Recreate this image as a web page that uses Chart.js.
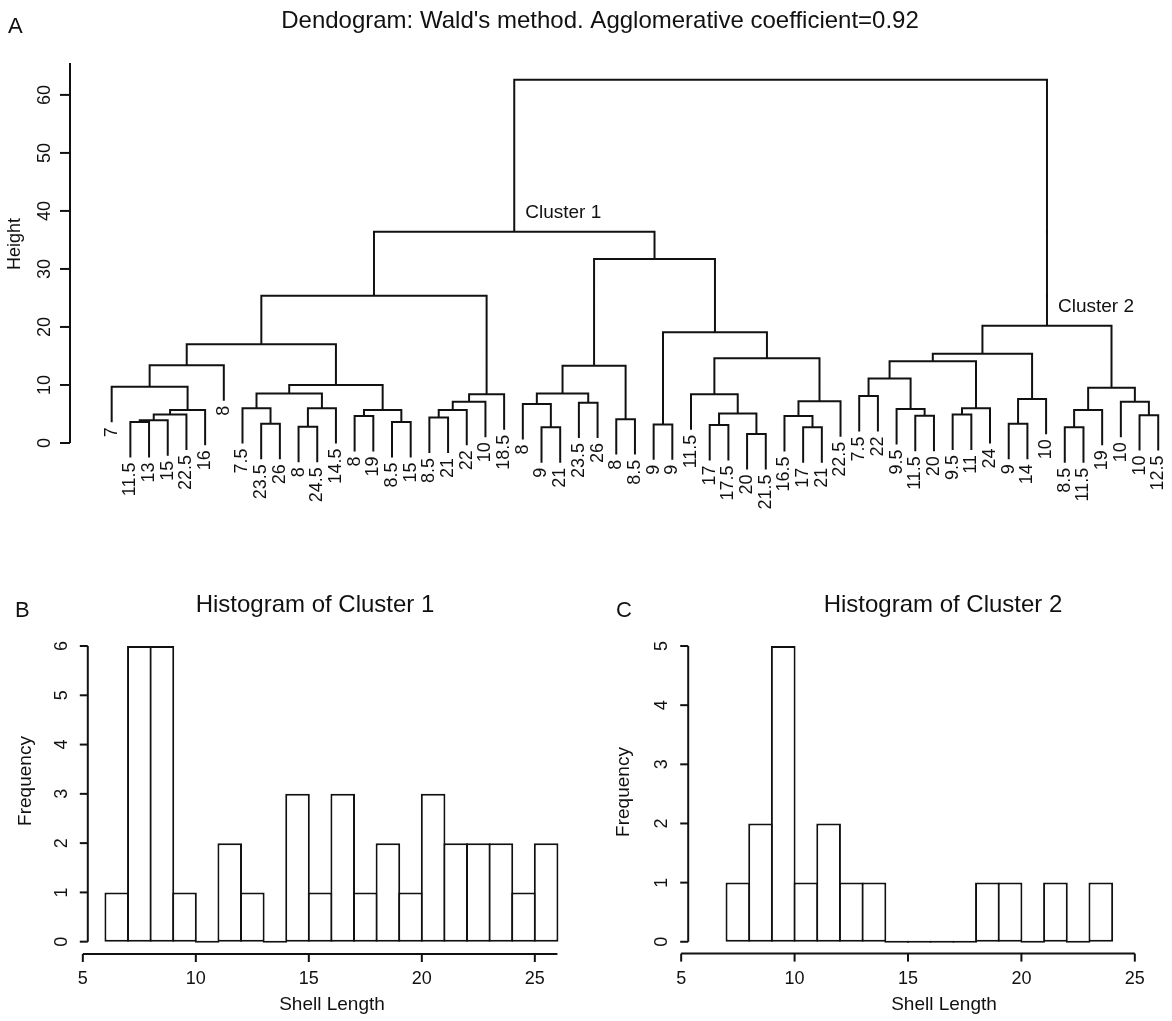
<!DOCTYPE html>
<html>
<head>
<meta charset="utf-8">
<title>Shell length clustering</title>
<script src="https://cdn.jsdelivr.net/npm/chart.js@4.4.1/dist/chart.umd.min.js"></script>
<style>
   html, body { margin: 0; padding: 0; background: #fff; }
   body { width: 1172px; height: 1021px; position: relative; overflow: hidden; }
   canvas { position: absolute; display: block; }
   #dendroChart { left: 0; top: 0; }
   #cluster1Chart { left: 0; top: 560px; }
   #cluster2Chart { left: 580px; top: 560px; }
</style>
</head>
<body>
<canvas id="dendroChart" width="1172" height="545"></canvas>
<canvas id="cluster1Chart" width="580" height="461"></canvas>
<canvas id="cluster2Chart" width="592" height="461"></canvas>

<script>
// Leaves in dendrogram order (shell length of each specimen)
const leafLabels = [
   "7", "11.5", "13", "15", "22.5", "16", "8", "7.5", "23.5", "26",
   "8", "24.5", "14.5", "8", "19", "8.5", "15", "8.5", "21", "22",
   "10", "18.5", "8", "9", "21", "23.5", "26", "8", "8.5", "9",
   "9", "11.5", "17", "17.5", "20", "21.5", "16.5", "17", "21", "22.5",
   "7.5", "22", "9.5", "11.5", "20", "9.5", "11", "24", "9", "14",
   "10", "8.5", "11.5", "19", "10", "10", "12.5"
];

// hclust-style merge table: negative = leaf position, positive = earlier step
const mergeLeft = [
   -35, -24, -38, -52, -11, -33, -30, -9, -49, -2,
   -16, 10, -28, -18, -14, -37, -44, -56, 12, -46,
   6, 19, 15, 14, 4, -43, -8, 5, 20, -23,
   -26, 24, -55, 16, 9, -41, 32, -32, 27, 30,
   25, -1, 39, 36, 40, 42, 44, 38, 47, 46,
   7, 49, 50, 45, 53, 55
];
const mergeRight = [
   -36, -25, -39, -53, -12, -34, -31, -10, -50, -3,
   -17, -4, -29, -19, -15, 3, -45, -57, -5, -47,
   1, -6, 11, -20, -54, 17, 8, -13, -48, 2,
   -27, -21, 18, -40, -51, -42, -22, 21, 28, 31,
   33, 22, 23, 26, 13, -7, 29, 34, 35, 43,
   48, 41, 37, 51, 54, 52
];
const mergeHeight = [
   1.55, 2.7, 2.7, 2.7, 2.8, 3.1, 3.2, 3.3, 3.3, 3.6,
   3.6, 3.9, 4.1, 4.4, 4.65, 4.65, 4.7, 4.8, 4.9, 4.9,
   5.1, 5.7, 5.7, 5.7, 5.7, 5.85, 6.0, 6.0, 6.0, 6.7,
   6.95, 7.1, 7.1, 7.2, 7.6, 8.1, 8.4, 8.4, 8.55, 8.55,
   9.5, 9.7, 10.0, 11.1, 13.3, 13.4, 14.1, 14.6, 15.4, 17.0,
   19.1, 20.2, 25.4, 31.7, 36.4, 62.6
];

const clusterNames = ["Cluster 1", "Cluster 2"];
const clusterSteps = [55, 52];
const heightTicks = [0, 10, 20, 30, 40, 50, 60];

// Histogram bins (lower edge, width 1) and counts
const cluster1BinStart = [6, 7, 8, 9, 10, 11, 12, 13, 14, 15, 16, 17, 18, 19, 20, 21, 22, 23, 24, 25];
const cluster1Counts = [1, 6, 6, 1, 0, 2, 1, 0, 3, 1, 3, 1, 2, 1, 3, 2, 2, 2, 1, 2];
const cluster2BinStart = [7, 8, 9, 10, 11, 12, 13, 14, 15, 16, 17, 18, 19, 20, 21, 22, 23];
const cluster2Counts = [1, 2, 5, 1, 2, 1, 1, 0, 0, 0, 0, 1, 1, 0, 1, 0, 1];

const lengthTicks = [5, 10, 15, 20, 25];
const cluster1FreqTicks = [0, 1, 2, 3, 4, 5, 6];
const cluster2FreqTicks = [0, 1, 2, 3, 4, 5];

const ink = "#111";
const fontFamily = '"Liberation Sans", Arial, Helvetica, sans-serif';

function font(size) {
   return `${size}px ${fontFamily}`;
}

function drawText(ctx, item) {
   ctx.save();
   ctx.font = font(item.size);
   ctx.fillStyle = ink;
   ctx.textAlign = item.align || "center";
   ctx.textBaseline = item.baseline || "alphabetic";
   ctx.translate(item.x, item.y);
   if (item.rotate) ctx.rotate(-Math.PI / 2);
   ctx.fillText(item.text, 0, 0);
   ctx.restore();
}

function strokeLine(ctx, x1, y1, x2, y2) {
   ctx.beginPath();
   ctx.moveTo(x1, y1);
   ctx.lineTo(x2, y2);
   ctx.stroke();
}

// Walks the merge table and turns every merge into a bracket polyline
function buildDendrogram() {
   const hang = 0.1 * (Math.max(...mergeHeight) - Math.min(...mergeHeight));
   const nodeX = [];
   const leafBottom = [];
   const points = [];

   mergeHeight.forEach((h, i) => {
      const ends = [mergeLeft[i], mergeRight[i]].map((child) => {
         if (child < 0) {
            leafBottom[-child] = h - hang;
            return { x: -child, y: h - hang };
         }
         return { x: nodeX[child - 1], y: mergeHeight[child - 1] };
      });

      nodeX.push((ends[0].x + ends[1].x) / 2);
      points.push(
         { x: ends[0].x, y: ends[0].y },
         { x: ends[0].x, y: h },
         { x: ends[1].x, y: h },
         { x: ends[1].x, y: ends[1].y },
         { x: ends[1].x, y: null }
      );
   });

   return { points, nodeX, leafBottom };
}

const dendro = buildDendrogram();

// Base-graphics style axes: lines only between the end ticks, rotated y labels
const rAxesPlugin = {
   id: "rAxes",
   afterDraw(chart, args, opts) {
      const { ctx, chartArea, scales } = chart;
      ctx.save();
      ctx.strokeStyle = ink;
      ctx.lineWidth = 2;

      if (opts.yAxis) {
         const ticks = opts.yAxis.ticks;
         const ax = chartArea.left;
         const end = opts.yAxis.to ?? ticks[ticks.length - 1];
         strokeLine(ctx, ax, scales.y.getPixelForValue(ticks[0]), ax, scales.y.getPixelForValue(end));
         ticks.forEach((value) => {
            const py = scales.y.getPixelForValue(value);
            strokeLine(ctx, ax - opts.tickLength, py, ax, py);
            drawText(ctx, { text: String(value), x: ax - opts.yLabelGap, y: py, size: opts.tickSize, rotate: true });
         });
      }

      if (opts.xAxis) {
         const ticks = opts.xAxis.ticks;
         const ay = chartArea.bottom;
         const end = opts.xAxis.to ?? ticks[ticks.length - 1];
         strokeLine(ctx, scales.x.getPixelForValue(ticks[0]), ay, scales.x.getPixelForValue(end), ay);
         ticks.forEach((value) => {
            const px = scales.x.getPixelForValue(value);
            strokeLine(ctx, px, ay, px, ay + opts.tickLength);
            drawText(ctx, { text: String(value), x: px, y: ay + opts.xLabelGap, size: opts.tickSize });
         });
      }

      (opts.texts || []).forEach((item) => drawText(ctx, item));
      ctx.restore();
   }
};

const dendroLabelPlugin = {
   id: "dendroLabels",
   afterDatasetsDraw(chart) {
      const { ctx, scales: { x, y } } = chart;

      leafLabels.forEach((label, i) => {
         drawText(ctx, {
            text: label,
            x: x.getPixelForValue(i + 1),
            y: y.getPixelForValue(dendro.leafBottom[i + 1]) + 5,
            size: 18,
            rotate: true,
            align: "right",
            baseline: "middle"
         });
      });

      clusterNames.forEach((name, i) => {
         const step = clusterSteps[i] - 1;
         drawText(ctx, {
            text: name,
            x: x.getPixelForValue(dendro.nodeX[step]) + 11,
            y: y.getPixelForValue(mergeHeight[step]) - 19,
            size: 19,
            align: "left",
            baseline: "middle"
         });
      });
   }
};

const dendroTop = 65.5;

new Chart(document.getElementById("dendroChart"), {
   type: "scatter",
   data: {
      datasets: [
         {
            data: dendro.points,
            showLine: true,
            spanGaps: false,
            borderColor: ink,
            borderWidth: 2,
            borderJoinStyle: "miter",
            pointRadius: 0,
            tension: 0
         }
      ]
   },
   options: {
      responsive: false,
      animation: false,
      events: [],
      layout: { padding: { left: 70, right: 2, top: 63, bottom: 32.4 } },
      scales: {
         x: { type: "linear", min: -1.23, max: 57.63, display: false },
         y: { type: "linear", min: -12, max: dendroTop, display: false }
      },
      plugins: {
         legend: { display: false },
         tooltip: { enabled: false },
         rAxes: {
            yAxis: { ticks: heightTicks, to: dendroTop },
            tickLength: 10,
            yLabelGap: 20,
            tickSize: 18,
            texts: [
               { text: "Dendogram: Wald's method. Agglomerative coefficient=0.92", x: 600, y: 28, size: 24 },
               { text: "A", x: 8, y: 33, size: 22, align: "left" },
               { text: "Height", x: 19.5, y: 244, size: 18, rotate: true }
            ]
         }
      }
   },
   plugins: [rAxesPlugin, dendroLabelPlugin]
});

function histogramChart(canvasId, binStart, counts, setup) {
   const points = binStart.map((start, i) => ({ x: start + 0.5, y: counts[i] }));

   return new Chart(document.getElementById(canvasId), {
      type: "bar",
      data: {
         datasets: [
            {
               data: points,
               backgroundColor: "#fff",
               borderColor: ink,
               borderWidth: 2,
               borderSkipped: false,
               minBarLength: 2,
               barPercentage: 1.088,
               categoryPercentage: 1
            }
         ]
      },
      options: {
         responsive: false,
         animation: false,
         events: [],
         layout: { padding: setup.padding },
         scales: {
            x: { type: "linear", offset: false, min: setup.x[0], max: setup.x[1], display: false },
            y: { type: "linear", min: setup.y[0], max: setup.y[1], display: false }
         },
         plugins: {
            legend: { display: false },
            tooltip: { enabled: false },
            rAxes: {
               xAxis: { ticks: lengthTicks, to: setup.xAxisEnd },
               yAxis: { ticks: setup.yTicks },
               tickLength: 8,
               xLabelGap: 30,
               yLabelGap: 21,
               tickSize: 18,
               texts: setup.texts
            }
         }
      },
      plugins: [rAxesPlugin]
   });
}

histogramChart("cluster1Chart", cluster1BinStart, cluster1Counts, {
   padding: { left: 87.8, right: 4.5, top: 73.7, bottom: 67 },
   x: [5.22, 26.8],
   y: [-0.25, 6.25],
   xAxisEnd: 26,
   yTicks: cluster1FreqTicks,
   texts: [
      { text: "B", x: 15, y: 57, size: 22, align: "left" },
      { text: "Histogram of Cluster 1", x: 315, y: 52, size: 24 },
      { text: "Frequency", x: 31, y: 221, size: 19, rotate: true },
      { text: "Shell Length", x: 332, y: 450, size: 19 }
   ]
});

histogramChart("cluster2Chart", cluster2BinStart, cluster2Counts, {
   padding: { left: 108.2, right: 21.3, top: 74.2, bottom: 67.4 },
   x: [5.31, 25.7],
   y: [-0.2, 5.2],
   xAxisEnd: 25,
   yTicks: cluster2FreqTicks,
   texts: [
      { text: "C", x: 36, y: 57, size: 22, align: "left" },
      { text: "Histogram of Cluster 2", x: 363, y: 52, size: 24 },
      { text: "Frequency", x: 49, y: 232, size: 19, rotate: true },
      { text: "Shell Length", x: 364, y: 450, size: 19 }
   ]
});
</script>
</body>
</html>
